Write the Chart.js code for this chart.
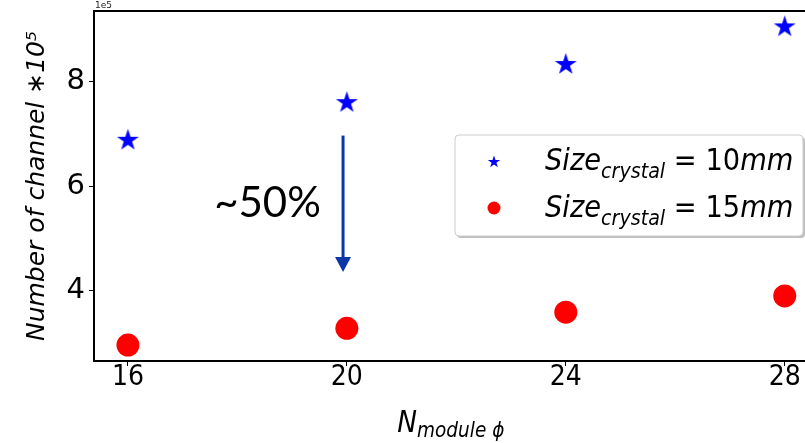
<!DOCTYPE html>
<html lang="en">
<head>
  <meta charset="UTF-8" />
  <title>Number of channels vs N module phi</title>
  <script src="https://cdn.jsdelivr.net/npm/chart.js"></script>
  <style>
    body {
      margin: 0;
      background: #ffffff;
      overflow: hidden;
    }
    #wrap {
      width: 805px;
      height: 443px;
    }
  </style>
</head>
<body>
  <div id="wrap"><canvas id="channelChart"></canvas></div>

  <script>
    // values (y in units of 1e5)
    const nModulePhi = [16, 20, 24, 28];
    const channels10mm = [6.88, 7.60, 8.33, 9.05];
    const channels15mm = [2.96, 3.28, 3.59, 3.90];
    const xTicks = [16, 20, 24, 28];
    const yTicks = [4, 6, 8];

    // filled five point star, like the matplotlib '*' marker
    function makeStar(r, color) {
      const c = document.createElement('canvas');
      const s = Math.ceil(r * 2 + 2);
      c.width = s;
      c.height = s;
      const g = c.getContext('2d');
      drawStar(g, s / 2, s / 2, r, color);
      return c;
    }

    function drawStar(g, cx, cy, r, color) {
      const inner = r * 0.382;
      g.beginPath();
      for (let i = 0; i < 10; i++) {
        const rad = i % 2 === 0 ? r : inner;
        const a = -Math.PI / 2 + i * Math.PI / 5;
        const px = cx + rad * Math.cos(a);
        const py = cy + rad * Math.sin(a);
        if (i === 0) g.moveTo(px, py); else g.lineTo(px, py);
      }
      g.closePath();
      g.fillStyle = color;
      g.fill();
    }

    // draw a row of text pieces, some italic, some lowered as subscript
    function drawPieces(ctx, pieces, x, y, squeeze) {
      ctx.save();
      ctx.translate(x, y);
      ctx.scale(squeeze, 1);
      ctx.textBaseline = 'alphabetic';
      ctx.textAlign = 'left';
      ctx.fillStyle = '#000';
      let cx = 0;
      pieces.forEach(p => {
        ctx.font = (p.italic ? 'italic ' : '') + p.size + 'px "DejaVu Sans"';
        ctx.fillText(p.text, cx, p.dy || 0);
        cx += ctx.measureText(p.text).width;
      });
      ctx.restore();
      return cx * squeeze;
    }

    function piecesWidth(ctx, pieces, squeeze) {
      ctx.save();
      let w = 0;
      pieces.forEach(p => {
        ctx.font = (p.italic ? 'italic ' : '') + p.size + 'px "DejaVu Sans"';
        w += ctx.measureText(p.text).width;
      });
      ctx.restore();
      return w * squeeze;
    }

    const starImg = makeStar(11.5, '#0000ff');

    const extras = {
      id: 'extras',
      afterDraw(chart) {
        const ctx = chart.ctx;
        const area = chart.chartArea;
        const xs = chart.scales.x;
        const ys = chart.scales.y;

        // top spine
        ctx.save();
        ctx.strokeStyle = '#000';
        ctx.lineWidth = 2;
        ctx.beginPath();
        ctx.moveTo(area.left - 1, area.top);
        ctx.lineTo(area.right, area.top);
        ctx.stroke();

        // offset text
        ctx.font = '9px "DejaVu Sans"';
        ctx.fillStyle = '#222';
        ctx.textAlign = 'left';
        ctx.textBaseline = 'alphabetic';
        ctx.fillText('1e5', area.left + 1, area.top - 3);

        // arrow showing the drop
        const ax = xs.getPixelForValue(19.93);
        const ay0 = ys.getPixelForValue(6.97);
        const ay1 = ys.getPixelForValue(4.36);
        ctx.strokeStyle = '#0a36a8';
        ctx.fillStyle = '#0a36a8';
        ctx.lineWidth = 3;
        ctx.beginPath();
        ctx.moveTo(ax, ay0);
        ctx.lineTo(ax, ay1 - 12);
        ctx.stroke();
        ctx.beginPath();
        ctx.moveTo(ax - 8, ay1 - 15);
        ctx.lineTo(ax + 8, ay1 - 15);
        ctx.lineTo(ax, ay1);
        ctx.closePath();
        ctx.fill();

        ctx.font = '42px Lato';
        ctx.fillStyle = '#000';
        ctx.textAlign = 'center';
        ctx.textBaseline = 'middle';
        ctx.fillText('~50%', xs.getPixelForValue(18.55), ys.getPixelForValue(5.67));
        ctx.restore();

        // x axis label N_{module phi}
        const xlab = [
          { text: 'N', italic: true, size: 30 },
          { text: 'module ϕ', italic: true, size: 21, dy: 5 }
        ];
        const xw = piecesWidth(ctx, xlab, 0.88);
        const xc = (area.left + xs.getPixelForValue(28.6)) / 2 - 5;
        drawPieces(ctx, xlab, xc - xw / 2, 432, 0.88);

        // legend box
        const lx = 455, ly = 135, lw = 348, lh = 101;
        ctx.save();
        ctx.fillStyle = 'rgba(0,0,0,0.25)';
        ctx.beginPath();
        ctx.roundRect(lx + 2, ly + 2, lw, lh, 4);
        ctx.fill();
        ctx.fillStyle = '#ffffff';
        ctx.strokeStyle = '#cccccc';
        ctx.lineWidth = 1;
        ctx.beginPath();
        ctx.roundRect(lx, ly, lw, lh, 4);
        ctx.fill();
        ctx.stroke();

        drawStar(ctx, 494, 162, 6.5, '#0000ff');
        ctx.fillStyle = '#ff0000';
        ctx.beginPath();
        ctx.arc(494, 208, 6.5, 0, Math.PI * 2);
        ctx.fill();
        ctx.restore();

        const rows = [['10', 170], ['15', 217]];
        rows.forEach(([mm, base]) => {
          drawPieces(ctx, [
            { text: 'Size', italic: true, size: 30 },
            { text: 'crystal', italic: true, size: 21, dy: 8 },
            { text: ' = ' + mm, italic: false, size: 30 },
            { text: 'mm', italic: true, size: 30 }
          ], 545, base, 0.91);
        });
      }
    };

    const ctx = document.getElementById('channelChart').getContext('2d');

    new Chart(ctx, {
      type: 'scatter',
      data: {
        datasets: [
          {
            label: 'Size crystal = 10mm',
            data: nModulePhi.map((x, i) => ({ x: x, y: channels10mm[i] })),
            pointStyle: starImg,
            backgroundColor: '#0000ff'
          },
          {
            label: 'Size crystal = 15mm',
            data: nModulePhi.map((x, i) => ({ x: x, y: channels15mm[i] })),
            pointStyle: 'circle',
            pointRadius: 11.5,
            borderWidth: 0,
            backgroundColor: '#ff0000'
          }
        ]
      },
      options: {
        responsive: true,
        maintainAspectRatio: false,
        animation: false,
        events: [],
        layout: { autoPadding: false, padding: { left: 0, right: 0, top: 11, bottom: 0 } },
        plugins: {
          legend: { display: false },
          tooltip: { enabled: false }
        },
        scales: {
          x: {
            type: 'linear',
            min: 15.38,
            max: 28.37,
            afterBuildTicks: axis => { axis.ticks = xTicks.map(v => ({ value: v })); },
            afterFit: axis => {
              axis.height = 82;
              axis.paddingLeft = 0;
              axis.paddingRight = 0;
            },
            ticks: {
              color: '#000',
              padding: -2,
              font: { family: '"DejaVu Sans Condensed", "DejaVu Sans"', size: 28, lineHeight: 1 }
            },
            grid: { drawOnChartArea: false, drawTicks: true, tickLength: 5, color: '#000', lineWidth: 1 },
            border: { display: true, color: '#000', width: 2 }
          },
          y: {
            type: 'linear',
            min: 2.655,
            max: 9.355,
            afterBuildTicks: axis => { axis.ticks = yTicks.map(v => ({ value: v })); },
            afterFit: axis => {
              axis.width = 94;
              axis.paddingTop = 0;
              axis.paddingBottom = 0;
            },
            ticks: {
              color: '#000',
              padding: 4,
              font: { family: '"DejaVu Sans"', size: 29 }
            },
            title: {
              display: true,
              text: 'Number of channel ∗10⁵',
              color: '#000',
              padding: { top: 22, bottom: 0 },
              font: { family: '"DejaVu Sans"', size: 25, style: 'italic' }
            },
            grid: { drawOnChartArea: false, drawTicks: true, tickLength: 5, color: '#000', lineWidth: 1 },
            border: { display: true, color: '#000', width: 2 }
          }
        }
      },
      plugins: [extras]
    });
  </script>
</body>
</html>
